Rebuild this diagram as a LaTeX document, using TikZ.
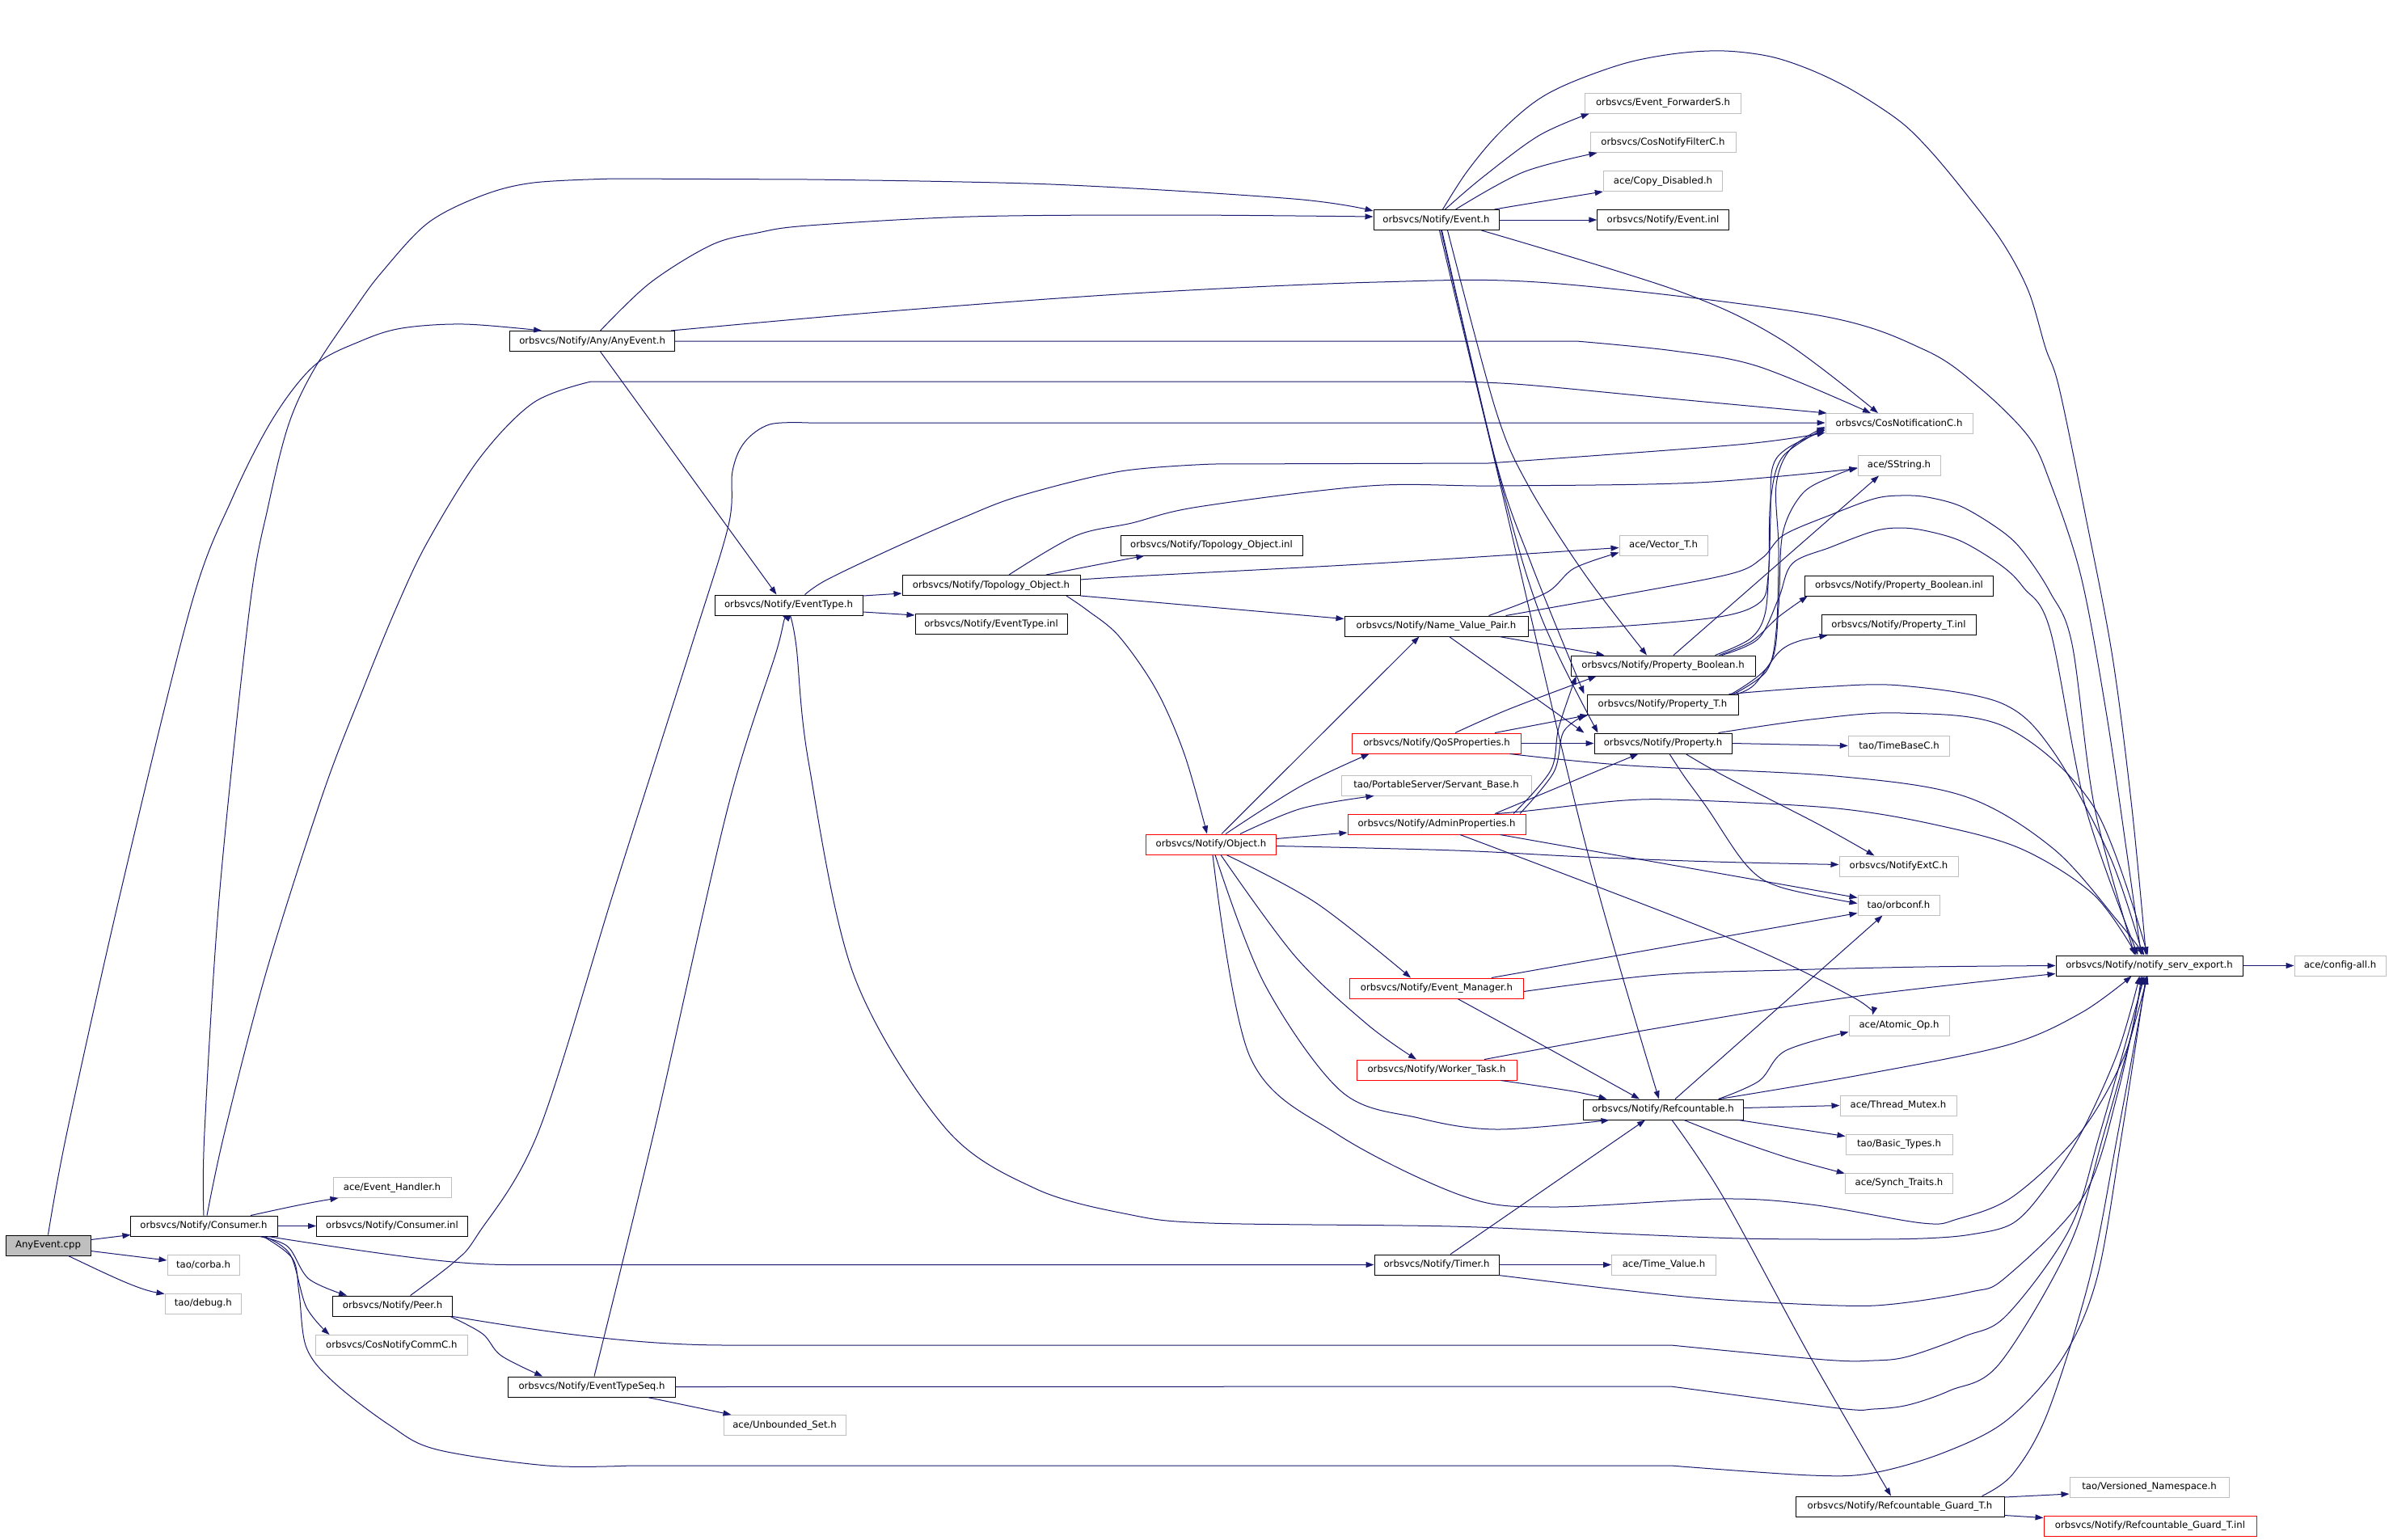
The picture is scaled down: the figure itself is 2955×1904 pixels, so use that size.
\documentclass[tikz,border=0pt]{standalone}
\usepackage{fontspec}
\setmainfont{DejaVu Sans}
\usetikzlibrary{arrows.meta}
\definecolor{edgec}{HTML}{191970}
\definecolor{extc}{HTML}{BFBFBF}
\definecolor{rootc}{HTML}{BFBFBF}
\newcommand\nodefont{\fontsize{11.7pt}{14pt}\selectfont}
\tikzset{
  nd/.style={draw=black, line width=1pt, minimum height=25pt, inner sep=0pt, font=\nodefont, text=black},
  ext/.style={nd, draw=extc},
  trc/.style={nd, draw=red},
  rootnd/.style={nd, fill=rootc},
  e/.style={draw=edgec, line width=1pt, -{Triangle[length=10pt,width=7pt]}},
  sm/.style={smooth, tension=.55}
}
\begin{document}
\begin{tikzpicture}[x=1pt,y=-1pt]
\useasboundingbox (0,0) rectangle (2955,1904);
% nodes
\node[rootnd, minimum width=105pt] (cpp) at (59.5,1540.5) {AnyEvent.cpp};
\node[nd, minimum width=182pt] (cons) at (252,1516.5) {orbsvcs/Notify/Consumer.h};
\node[ext, minimum width=146pt] (evh) at (485,1469) {ace/Event\_Handler.h};
\node[nd, minimum width=187pt] (consinl) at (485,1516.5) {orbsvcs/Notify/Consumer.inl};
\node[ext, minimum width=89pt] (corba) at (251.5,1565) {tao/corba.h};
\node[ext, minimum width=94.5pt] (debug) at (251.3,1612.5) {tao/debug.h};
\node[nd, minimum width=148pt] (peer) at (485.6,1615.5) {orbsvcs/Notify/Peer.h};
\node[ext, minimum width=188.6pt] (commc) at (484.3,1664) {orbsvcs/CosNotifyCommC.h};
\node[nd, minimum width=206.6pt] (etseq) at (732,1715.5) {orbsvcs/Notify/EventTypeSeq.h};
\node[ext, minimum width=151pt] (unb) at (970.5,1763) {ace/Unbounded\_Set.h};
\node[nd, minimum width=204pt] (anyev) at (732.6,422) {orbsvcs/Notify/Any/AnyEvent.h};
\node[nd, minimum width=183pt] (etype) at (975.5,748.5) {orbsvcs/Notify/EventType.h};
\node[nd, minimum width=220pt] (topo) at (1226,724) {orbsvcs/Notify/Topology\_Object.h};
\node[nd, minimum width=188pt] (etypeinl) at (1226,772) {orbsvcs/Notify/EventType.inl};
\node[nd, minimum width=155pt] (event) at (1776.5,272) {orbsvcs/Notify/Event.h};
\node[ext, minimum width=193.5pt] (fwd) at (2057,127.5) {orbsvcs/Event\_ForwarderS.h};
\node[ext, minimum width=180pt] (filter) at (2057,176) {orbsvcs/CosNotifyFilterC.h};
\node[ext, minimum width=147.5pt] (copy) at (2057,224) {ace/Copy\_Disabled.h};
\node[nd, minimum width=162.5pt] (eventinl) at (2057,272) {orbsvcs/Notify/Event.inl};
\node[ext, minimum width=182pt] (cosnot) at (2349,524) {orbsvcs/CosNotificationC.h};
\node[ext, minimum width=102pt] (sstr) at (2349,575.5) {ace/SString.h};
\node[nd, minimum width=225pt] (topoinl) at (1498.5,674.5) {orbsvcs/Notify/Topology\_Object.inl};
\node[ext, minimum width=109pt] (vec) at (2057.5,674.5) {ace/Vector\_T.h};
\node[nd, minimum width=227pt] (nvp) at (1776.5,774.5) {orbsvcs/Notify/Name\_Value\_Pair.h};
\node[nd, minimum width=228pt] (pbool) at (2057,823.5) {orbsvcs/Notify/Property\_Boolean.h};
\node[nd, minimum width=187pt] (pT) at (2056.5,871.5) {orbsvcs/Notify/Property\_T.h};
\node[nd, minimum width=170pt] (prop) at (2057,919.5) {orbsvcs/Notify/Property.h};
\node[trc, minimum width=209.5pt] (qos) at (1777,919.5) {orbsvcs/Notify/QoSProperties.h};
\node[ext, minimum width=235pt] (servant) at (1776.5,971.5) {tao/PortableServer/Servant\_Base.h};
\node[trc, minimum width=220pt] (admin) at (1777,1019.5) {orbsvcs/Notify/AdminProperties.h};
\node[trc, minimum width=160.5pt] (obj) at (1498,1044.5) {orbsvcs/Notify/Object.h};
\node[nd, minimum width=233.5pt] (pboolinl) at (2349,724.5) {orbsvcs/Notify/Property\_Boolean.inl};
\node[nd, minimum width=191pt] (pTinl) at (2348.5,773) {orbsvcs/Notify/Property\_T.inl};
\node[ext, minimum width=125.5pt] (timebase) at (2349,922.5) {tao/TimeBaseC.h};
\node[ext, minimum width=147pt] (nxc) at (2348.5,1071.5) {orbsvcs/NotifyExtC.h};
\node[ext, minimum width=101pt] (orbconf) at (2348.5,1119.5) {tao/orbconf.h};
\node[trc, minimum width=214.6pt] (evmgr) at (1777,1222.5) {orbsvcs/Notify/Event\_Manager.h};
\node[ext, minimum width=124pt] (atomic) at (2349,1268.5) {ace/Atomic\_Op.h};
\node[trc, minimum width=198pt] (worker) at (1777,1323.5) {orbsvcs/Notify/Worker\_Task.h};
\node[nd, minimum width=198pt] (refc) at (2057,1372.5) {orbsvcs/Notify/Refcountable.h};
\node[ext, minimum width=144pt] (mutex) at (2348,1367.5) {ace/Thread\_Mutex.h};
\node[ext, minimum width=132pt] (basic) at (2349,1415.5) {tao/Basic\_Types.h};
\node[ext, minimum width=133.5pt] (synch) at (2349,1463.5) {ace/Synch\_Traits.h};
\node[nd, minimum width=231pt] (exp) at (2658.5,1194.5) {orbsvcs/Notify/notify\_serv\_export.h};
\node[ext, minimum width=113pt] (config) at (2894.5,1194.5) {ace/config-all.h};
\node[nd, minimum width=154pt] (timer) at (1777,1564.5) {orbsvcs/Notify/Timer.h};
\node[ext, minimum width=129pt] (timeval) at (2058,1564.5) {ace/Time\_Value.h};
\node[nd, minimum width=258pt] (guard) at (2350,1863.5) {orbsvcs/Notify/Refcountable\_Guard\_T.h};
\node[ext, minimum width=197pt] (versioned) at (2658.5,1839.5) {tao/Versioned\_Namespace.h};
\node[trc, minimum width=263pt] (guardinl) at (2659.5,1887.5) {orbsvcs/Notify/Refcountable\_Guard\_T.inl};

% AnyEvent.cpp
\draw[e] ([yshift=7pt]cpp.east) -- ([xshift=1pt,yshift=2pt]cons.south west);
\draw[e] ([yshift=-7pt]cpp.east) -- ([yshift=6pt]corba.west);
\draw[e] ([xshift=25pt]cpp.south) .. controls (130,1575) and (170,1595) .. ([yshift=-1pt]debug.north west);
\draw[e] plot[sm] coordinates {(cpp.north) (83,1400) (150,1100) (236,750) (287,617) (338,517) (389,452) (446,422) (497,406) (574,401) ([xshift=40pt]anyev.north west)};

% Consumer.h
\draw[e] plot[sm] coordinates {(cons.north) (253,1400) (272,1100) (309,750) (332,625) (357,525) (389,456) (440,380) (472,337) (529,276) (596,242) (660,226) (760,221)} -- plot[sm] coordinates {(1000,222) (1300,228) (1600,246) ([yshift=-2pt]event.north west)};
\draw[e] plot[sm] coordinates {([xshift=4pt]cons.north) (278,1400) (330,1200) (400,980) (450,850) (491,750) (529,670) (593,567) (660,498) (731,472)} -- plot[sm] coordinates {(1801,472) (1887,476) (2076,494) ([xshift=2pt]cosnot.north west)};
\draw[e] ([xshift=58pt]cons.north) .. controls (340,1497) and (380,1488) .. ([xshift=7pt]evh.south west);
\draw[e] (cons.east) -- (consinl.west);
\draw[e] plot[sm] coordinates {([xshift=69pt]cons.south) (356,1542) (382,1582) ([xshift=18pt]peer.north west)};
\draw[e] plot[sm] coordinates {([xshift=75pt]cons.south) (359,1552) (379,1617) ([xshift=18pt]commc.north west)};
\draw[e] ([xshift=-12pt]cons.south east) .. controls (500,1556) and (570,1564.5) .. (631,1564.5) -- (timer.west);
\draw[e] plot[sm] coordinates {([xshift=-18pt]cons.south east) (362,1557) (370,1600) (379,1667) (413,1710) (482,1763) (540,1793) (677,1813) (780,1813)} -- plot[sm] coordinates {(2067,1813) (2240,1825) (2317,1822) (2404,1797) (2482,1757) (2551,1680) (2594,1580) (2625,1400) ([xshift=-4pt]exp.south)};

% AnyEvent.h
\draw[e] plot[sm] coordinates {([xshift=10pt]anyev.north) (804,350) (880,303) (937,288) (1000,279) (1200,268) (1450,266) ([yshift=4pt]event.west)};
\draw[e] ([xshift=10pt]anyev.south) -- ([xshift=-15pt]etype.north);
\draw[e] (anyev.east) -- plot[sm] coordinates {(1950,422) (2070,434) (2174,453) ([xshift=-35pt]cosnot.north)};
\draw[e] plot[sm] coordinates {([xshift=-5pt]anyev.north east) (1100,385) (1400,363) (1703,349) (1916,350) (2249,390) (2381,433) (2449,480) (2509,540) (2536,597) (2574,713) (2605,880) (2630,1050) ([xshift=-10pt]exp.north)};

% Peer.h
\draw[e] plot[sm] coordinates {([xshift=22pt]peer.north) (563,1560) (591,1527) (666,1400) (760,1100) (855,800) (901,650) (906,583) (921,547) (952,525) (1000,523)} -- ([yshift=1pt]cosnot.west);
\draw[e] plot[sm] coordinates {([xshift=-3pt]peer.south east) (597,1650) (620,1677) ([xshift=43pt]etseq.north west)};
\draw[e] (peer.south east) .. controls (700,1652) and (800,1664) .. (900,1664) -- plot[sm] coordinates {(2067,1664) (2257,1682) (2317,1683) (2360,1678) (2430,1653) (2482,1627) (2560,1520) (2598,1400) ([xshift=-6pt]exp.south)};

% EventTypeSeq.h
\draw[e] plot[sm] coordinates {([xshift=3pt]etseq.north) (809,1400) (900,1000) (962,800) ([xshift=-8pt]etype.south)};
\draw[e] ([xshift=69pt]etseq.south) -- ([xshift=10pt]unb.north west);
\draw[e] (etseq.east) -- plot[sm] coordinates {(2067,1715) (2274,1742) (2317,1743) (2360,1738) (2412,1720) (2473,1687) (2560,1540) (2603,1400) ([xshift=-2pt]exp.south)};

% EventType.h
\draw[e] ([yshift=11.5pt]etype.east) -- ([yshift=-10pt]topo.west);
\draw[e] ([yshift=-8.5pt]etype.east) -- ([yshift=11pt]etypeinl.west);
\draw[e] plot[sm] coordinates {([xshift=20pt]etype.north) (1023,717) (1105,678) (1192,640) (1263,613) (1386,583) (1500,574)} -- plot[sm] coordinates {(1841,573) (2150,550) ([yshift=-11pt]cosnot.west)};
\draw[e] plot[sm] coordinates {([xshift=2pt]etype.south) (985,800) (1000,942) (1056,1206) (1169,1395) (1280,1470) (1395,1502) (1496,1513) (1795,1517) (2000,1526) (2153,1532) (2291,1533) (2378,1532) (2438,1527) (2490,1513) (2530,1470) (2575,1400) (2620,1300) ([xshift=-12pt]exp.south)};

% Topology_Object.h
\draw[e] plot[sm] coordinates {([xshift=68pt]topo.north) (1350,700) ([xshift=30pt]topoinl.south west)};
\draw[e] plot[sm] coordinates {([yshift=7pt]topo.east) (1400,713) (1700,697) ([yshift=-3pt]vec.west)};
\draw[e] ([yshift=-13pt]topo.east) -- ([yshift=9pt]nvp.west);
\draw[e] plot[sm] coordinates {([xshift=93pt]topo.south) (1345,755) (1384,787) (1430,853) (1465,933) ([xshift=-5pt]obj.north)};
\draw[e] plot[sm] coordinates {([xshift=22pt]topo.north) (1330,663) (1400,647) (1482,627) (1694,601) (1850,601) (2100,597) ([yshift=-4pt]sstr.west)};

% Name_Value_Pair.h
\draw[e] plot[sm] coordinates {([xshift=65pt]nvp.north) (1913,733) (1947,703) ([yshift=4pt]vec.south west)};
\draw[e] ([xshift=-36pt]nvp.south east) -- ([xshift=42pt]pbool.north west);
\draw[e] ([xshift=16pt]nvp.south) -- ([xshift=-12pt]prop.north west);
\draw[e] plot[sm] coordinates {([yshift=-5pt]nvp.east) (2000,775) (2127,763) (2177,745) (2187,713) (2190,640) (2192,580) (2210,555) ([yshift=-8pt]cosnot.west)};
\draw[e] plot[sm] coordinates {([xshift=86pt]nvp.north) (2000,737) (2140,710) (2180,690) (2206,662) (2264,637) (2318,617) (2351,613) (2384,615) (2427,627) (2476,657) (2503,683) (2536,733) (2563,797) (2591,1000) ([xshift=-18pt]exp.north)};

% Property_Boolean.h
\draw[e] plot[sm] coordinates {([xshift=-45pt]pbool.north east) (2167,793) (2200,763) ([xshift=4pt]pboolinl.south west)};
\draw[e] ([xshift=13pt]pbool.north) -- ([xshift=-25pt]sstr.south);
\draw[e] plot[sm] coordinates {([xshift=-50pt]pbool.north east) (2165,790) (2183,760) (2188,700) (2190,620) (2205,565) ([yshift=-6pt]cosnot.west)};
\draw[e] plot[sm] coordinates {([xshift=-42pt]pbool.north east) (2175,790) (2200,740) (2217,697) (2264,677) (2318,657) (2351,653) (2384,657) (2427,670) (2476,700) (2503,727) (2536,780) (2580,1000) ([xshift=-14pt]exp.north)};

% Property_T.h
\draw[e] plot[sm] coordinates {([xshift=-2pt]pT.north east) (2170,847) (2200,807) (2225,793) ([xshift=8pt]pTinl.south west)};
\draw[e] plot[sm] coordinates {([xshift=-12pt]pT.north east) (2250,850) (2351,848) (2476,870) (2540,930) (2610,1060) ([xshift=-8pt]exp.north)};
\draw[e] plot[sm] coordinates {([xshift=-6pt]pT.north east) (2185,830) (2197,780) (2200,680) (2197,600) (2215,555) ([yshift=-4pt]cosnot.west)};
\draw[e] plot[sm] coordinates {([xshift=-9pt]pT.north east) (2190,820) (2200,750) (2205,660) (2230,610) (2270,588) ([yshift=-3pt]sstr.west)};

% Property.h
\draw[e] (prop.east) -- (timebase.west);
\draw[e] plot[sm] coordinates {([xshift=-17pt]prop.north east) (2240,890) (2351,882) (2482,900) (2591,1000) ([xshift=-2pt]exp.north)};
\draw[e] plot[sm] coordinates {([xshift=28pt]prop.south) (2133,960) (2250,1020) ([xshift=-30pt]nxc.north)};
\draw[e] plot[sm] coordinates {([xshift=8pt]prop.south) (2083,960) (2112,1000) (2160,1070) (2201,1097) ([yshift=2pt]orbconf.west)};

% QoSProperties.h
\draw[e] plot[sm] coordinates {([xshift=23pt]qos.north) (1867,877) ([xshift=32pt]pbool.south west)};
\draw[e] ([xshift=72pt]qos.north) -- ([xshift=2pt]pT.south west);
\draw[e] (qos.east) -- (prop.west);
\draw[e] plot[sm] coordinates {([xshift=-15pt]qos.south east) (2016,947) (2270,960) (2430,985) (2540,1050) (2620,1140) ([xshift=-6pt]exp.north)};

% Object.h
\draw[e] ([xshift=13pt]obj.north) -- ([xshift=-21pt]nvp.south);
\draw[e] plot[sm] coordinates {([xshift=18pt]obj.north) (1608,973) ([xshift=22pt]qos.south west)};
\draw[e] plot[sm] coordinates {([xshift=36pt]obj.north) (1610,1000) ([xshift=41pt]servant.south west)};
\draw[e] ([yshift=7pt]obj.east) -- ([yshift=-10.5pt]admin.west);
\draw[e] plot[sm] coordinates {([yshift=-2pt]obj.east) (1800,1052) (1960,1060) (2120,1066) ([yshift=2pt]nxc.west)};
\draw[e] plot[sm] coordinates {([xshift=19pt]obj.south) (1628,1117) ([xshift=-32pt]evmgr.north)};
\draw[e] plot[sm] coordinates {([xshift=12pt]obj.south) (1602,1183) (1691,1267) ([xshift=-25pt]worker.north)};
\draw[e] plot[sm] coordinates {([xshift=5pt]obj.south) (1564,1217) (1659,1350) (1755,1383) (1851,1397) ([xshift=33pt]refc.south west)};
\draw[e] plot[sm] coordinates {([xshift=2pt]obj.south) (1546,1307) (1654,1403) (1811,1480) (1919,1493) (2127,1483) (2240,1490) (2378,1513) (2421,1508) (2490,1480) (2574,1400) (2630,1300) ([xshift=-10pt]exp.south)};

% AdminProperties.h
\draw[e] plot[sm] coordinates {([xshift=95pt]admin.north) (1918,953) (1928,900) ([xshift=7pt]pbool.south west)};
\draw[e] plot[sm] coordinates {([xshift=103pt]admin.north) (1922,955) (1934,905) ([xshift=-1pt]pT.south west)};
\draw[e] ([xshift=72pt]admin.north) -- ([xshift=55pt]prop.south west);
\draw[e] plot[sm] coordinates {([xshift=74pt]admin.north) (1890,1003) (2010,990) (2096,990) (2272,1000) (2393,1020) (2500,1050) (2590,1107) ([xshift=-16pt]exp.north)};
\draw[e] ([xshift=-32pt]admin.south east) -- ([yshift=9pt]orbconf.west);
\draw[e] plot[sm] coordinates {([xshift=29pt]admin.south) (2138,1160) (2291,1233) ([xshift=-33pt]atomic.north)};

% Event_Manager.h / Worker_Task.h
\draw[e] ([xshift=-40pt]evmgr.north east) -- ([yshift=-10pt]orbconf.west);
\draw[e] plot[sm] coordinates {([yshift=-4pt]evmgr.east) (2050,1206) (2209,1200) (2380,1196) (exp.west)};
\draw[e] plot[sm] coordinates {([xshift=26pt]evmgr.south) (1908,1293) ([xshift=-29pt]refc.north)};
\draw[e] plot[sm] coordinates {([xshift=59pt]worker.north) (2043,1273) (2292,1233) ([yshift=-10pt]exp.west)};
\draw[e] plot[sm] coordinates {([xshift=-20pt]worker.south east) (1946,1350) ([xshift=30pt]refc.north west)};

% Event.h
\draw[e] plot[sm] coordinates {([xshift=11pt]event.north) (1833,220) (1903,168) ([xshift=6pt]fwd.south west)};
\draw[e] plot[sm] coordinates {([xshift=24pt]event.north) (1884,213) ([xshift=9pt]filter.south west)};
\draw[e] plot[sm] coordinates {([xshift=72pt]event.north) (1884,253) (copy.south west)};
\draw[e] (event.east) -- (eventinl.west);
\draw[e] plot[sm] coordinates {([xshift=-22pt]event.south east) (2076,360) (2203,420) ([xshift=-26pt]cosnot.north)};
\draw[e] plot[sm] coordinates {([xshift=8pt]event.north) (1814,213) (1852,167) (1897,127) (1941,103) (2011,78) (2075,66) (2133,63) (2190,70) (2241,87) (2292,112) (2350,150) (2388,187) (2432,240) (2477,300) (2509,360) (2530,430) (2547,480) (2580,640) (2613,813) (2637,1000) ([xshift=-4pt]exp.north)};
\draw[e] plot[sm] coordinates {([xshift=14pt]event.south) (1850,507) (1890,600) (1960,710) ([xshift=-20pt]pbool.north)};
\draw[e] plot[sm] coordinates {([xshift=7pt]event.south) (1850,570) (1895,700) ([xshift=-3pt]pT.north west)};
\draw[e] plot[sm] coordinates {([xshift=4pt]event.south) (1852,580) (1905,760) ([xshift=5pt]prop.north west)};
\draw[e] plot[sm] coordinates {([xshift=6pt]event.south) (1850,575) (1960,1040) ([xshift=-5pt]refc.north)};

% Refcountable.h
\draw[e] ([xshift=15pt]refc.north) -- ([xshift=-20pt]orbconf.south);
\draw[e] plot[sm] coordinates {([xshift=-31pt]refc.north east) (2176,1337) (2208,1300) ([yshift=-8pt]atomic.west)};
\draw[e] plot[sm] coordinates {([xshift=-30pt]refc.north east) (2300,1330) (2482,1293) (2574,1253) ([xshift=-22pt]exp.south)};
\draw[e] ([yshift=2pt]refc.east) -- (mutex.west);
\draw[e] ([xshift=-6pt]refc.south east) -- ([yshift=10pt]basic.west);
\draw[e] plot[sm] coordinates {([xshift=26pt]refc.south) (2138,1407) (2214,1433) ([yshift=-1pt]synch.north west)};
\draw[e] plot[sm] coordinates {([xshift=11pt]refc.south) (2131,1480) (2240,1680) ([xshift=-11pt]guard.north)};

% Timer.h
\draw[e] (timer.east) -- (timeval.west);
\draw[e] ([xshift=17pt]timer.north) -- ([xshift=-22pt]refc.south);
\draw[e] plot[sm] coordinates {([xshift=-1pt]timer.south east) (2000,1595) (2119,1607) (2274,1615) (2343,1613) (2438,1598) (2481,1580) (2577,1480) (2620,1350) ([xshift=-8pt]exp.south)};

% Refcountable_Guard_T.h
\draw[e] ([yshift=11.5pt]guard.east) -- ([yshift=-8.5pt]versioned.west);
\draw[e] ([yshift=-11pt]guard.east) -- ([yshift=10pt]guardinl.west);
\draw[e] plot[sm] coordinates {([xshift=-28pt]guard.north east) (2490,1823) (2533,1747) (2585,1580) (2620,1400) ([xshift=-3pt]exp.south)};

% notify_serv_export.h
\draw[e] (exp.east) -- (config.west);
\end{tikzpicture}
\end{document}
